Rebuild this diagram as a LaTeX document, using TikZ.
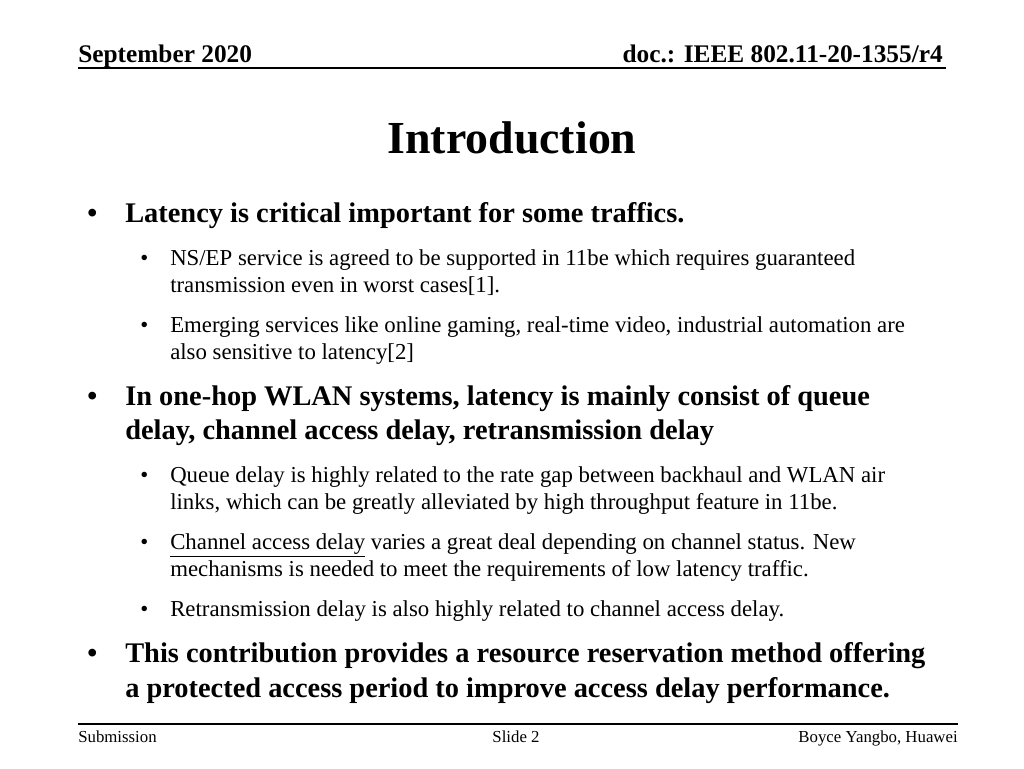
\documentclass[tikz,border=0pt]{standalone}
\usepackage{fontspec}
\setmainfont{Liberation Serif}
\tikzset{
  head/.style={anchor=base west,inner sep=0pt,font=\fontsize{19}{22}\selectfont\bfseries},
  lone/.style={anchor=base west,inner sep=0pt,font=\fontsize{21.3}{25}\selectfont\bfseries},
  ltwo/.style={anchor=base west,inner sep=0pt,font=\fontsize{17.1}{20}\selectfont},
  foot/.style={anchor=base west,inner sep=0pt,font=\fontsize{12.6}{15}\selectfont},
  bul/.style={anchor=base,inner sep=0pt}
}
\begin{document}
\begin{tikzpicture}[x=0.75pt,y=-0.75pt]
  \useasboundingbox[fill=white] (0,0) rectangle (1024,768);
  % header
  \node[head] (date) at (78,62) {September 2020};
  \node[head,anchor=base east] (doc) at (943,62) {doc.: IEEE 802.11-20-1355/r4};
  \coordinate (hl) at (78,68); \coordinate (hr) at (946,68);
  \draw[line width=0.8pt] (hl) -- (hr);
  % title
  \node[anchor=base,inner sep=0pt,font=\fontsize{34.4}{40}\selectfont\bfseries] (title) at (512,153) {Introduction};
  % bullets
  \foreach \y/\t in {222/{Latency is critical important for some traffics.},
                     405/{In one-hop WLAN systems, latency is mainly consist of queue},
                     662/{This contribution provides a resource reservation method offering}}{
    \node[bul,lone] at (87,\y) {\textbullet};
    \node[lone] at (125,\y) {\t};
  }
  \node[lone] (l1b) at (125,439) {delay, channel access delay, retransmission delay};
  \node[lone] (l3b) at (125,697) {a protected access period to improve access delay performance.};
  \foreach \y in {265,332,482,549,616}{
    \node[bul,ltwo] at (140,\y) {\textbullet};
  }
  \node[ltwo] (s1) at (170,265) {NS/EP service is agreed to be supported in 11be which requires guaranteed};
  \node[ltwo] (s1b) at (170,292) {transmission even in worst cases[1].};
  \node[ltwo] (s2) at (170,332) {Emerging services like online gaming, real-time video, industrial automation are};
  \node[ltwo] (s2b) at (170,359) {also sensitive to latency[2]};
  \node[ltwo] (s3) at (170,482) {Queue delay is highly related to the rate gap between backhaul and WLAN air};
  \node[ltwo] (s3b) at (170,509) {links, which can be greatly alleviated by high throughput feature in 11be.};
  \node[ltwo] (s4) at (170,549) {\underline{Channel access delay} varies a great deal depending on channel status. New};
  \node[ltwo] (s4b) at (170,576) {mechanisms is needed to meet the requirements of low latency traffic.};
  \node[ltwo] (s5) at (170,616) {Retransmission delay is also highly related to channel access delay.};
  % footer
  \coordinate (fl) at (78,724); \coordinate (fr) at (958,724);
  \draw[line width=0.8pt] (fl) -- (fr);
  \node[foot] (sub) at (78,742) {Submission};
  \node[foot,anchor=base] (slide) at (516,742) {Slide 2};
  \node[foot,anchor=base east] (auth) at (958,742) {Boyce Yangbo, Huawei};
\end{tikzpicture}
\end{document}
